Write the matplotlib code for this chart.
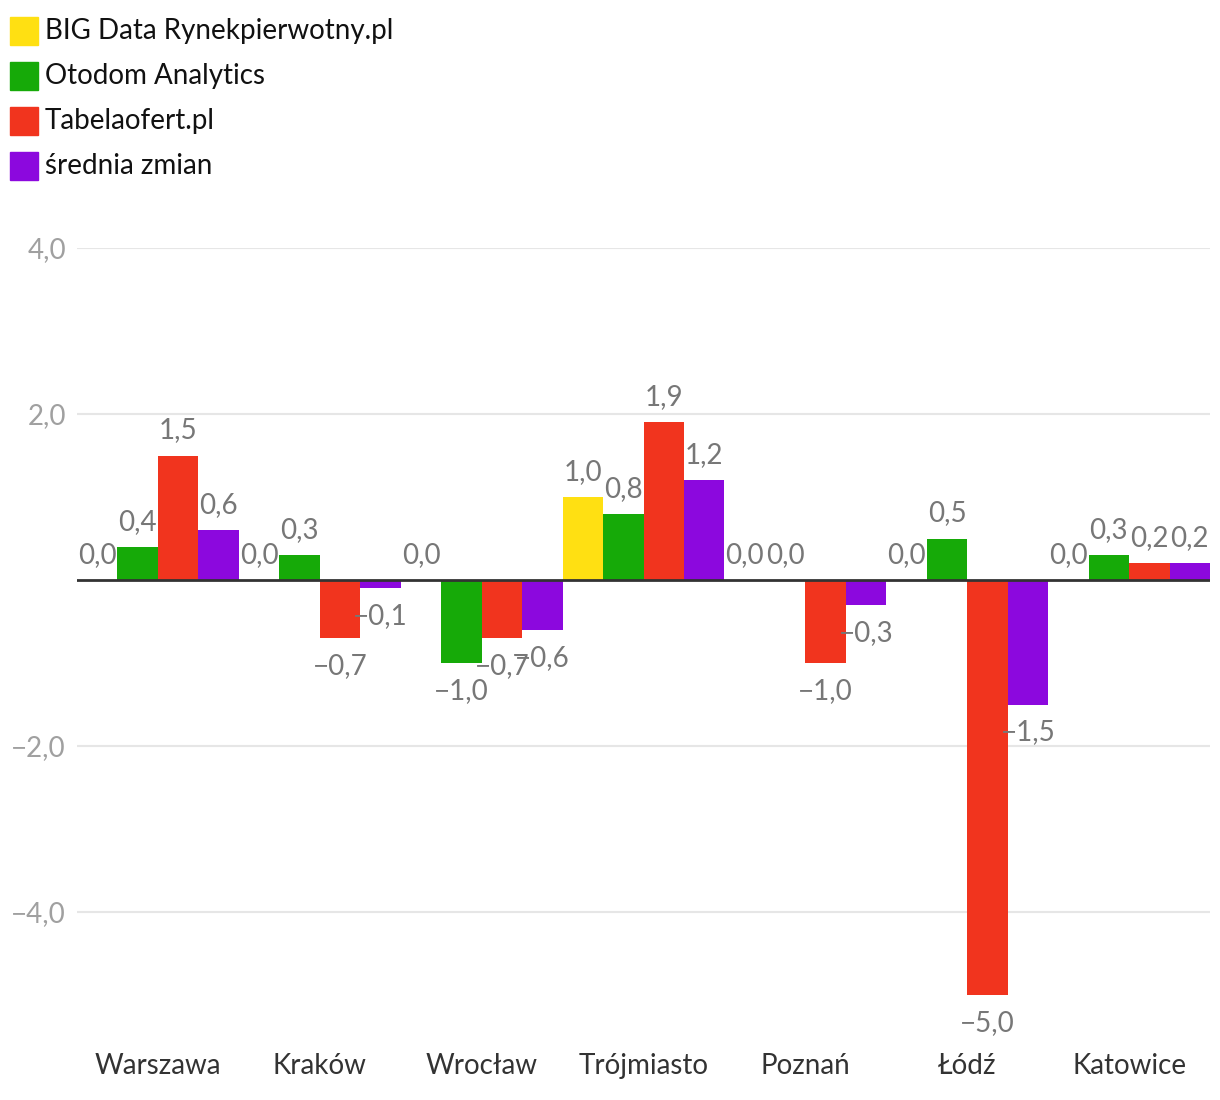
import matplotlib.pyplot as plt
from matplotlib.patches import Rectangle
import numpy as np

plt.rcParams['font.family'] = ['Lato', 'DejaVu Sans']

# cities and the four series (change in %)
cities = ['Warszawa', 'Kraków', 'Wrocław', 'Trójmiasto', 'Poznań', 'Łódź', 'Katowice']
series_names = ['BIG Data Rynekpierwotny.pl', 'Otodom Analytics', 'Tabelaofert.pl', 'średnia zmian']
big_data = [0.0, 0.0, 0.0, 1.0, 0.0, 0.0, 0.0]
otodom = [0.4, 0.3, -1.0, 0.8, 0.0, 0.5, 0.3]
tabelaofert = [1.5, -0.7, -0.7, 1.9, -1.0, -5.0, 0.2]
srednia = [0.6, -0.1, -0.6, 1.2, -0.3, -1.5, 0.2]
colors = ['#FFE012', '#16AA08', '#F1341E', '#8C08DE']
y_ticks = [-4, -2, 2, 4]

all_series = [big_data, otodom, tabelaofert, srednia]
FS = 20


def fmt(v):
    s = '{:.1f}'.format(abs(v)).replace('.', ',')
    return ('\u2212' + s) if v < 0 else s


fig = plt.figure(figsize=(12.2, 11), dpi=100)
ax = fig.add_axes([77 / 1220, 1 - 1036.5 / 1100, (1210 - 77) / 1220, (1036.5 - 248) / 1100])

x = np.arange(len(cities))
w = 0.25
for i, vals in enumerate(all_series):
    pos = x + (i - 1.5) * w
    ax.bar(pos, vals, width=w, color=colors[i], zorder=2)
    for px, v in zip(pos, vals):
        if v >= 0:
            ax.annotate(fmt(v), (px, v), xytext=(0, 18), textcoords='offset points',
                        ha='center', va='center', fontsize=FS, color='#777777', zorder=4)
        else:
            ax.annotate(fmt(v), (px, v), xytext=(0, -20), textcoords='offset points',
                        ha='center', va='center', fontsize=FS, color='#777777', zorder=4)

ax.axhline(0, color='#333333', linewidth=2, zorder=3)
ax.set_xlim(-0.5, len(cities) - 0.5)
ax.set_ylim(-5.5, 4.0)
ax.set_yticks(y_ticks)
ax.set_yticklabels([fmt(t) for t in y_ticks])
ax.set_xticks(x)
ax.set_xticklabels(cities)
ax.tick_params(axis='y', length=0, pad=8, labelsize=FS, labelcolor='#A0A0A0')
ax.tick_params(axis='x', length=0, pad=12, labelsize=FS, labelcolor='#333333')
ax.grid(axis='y', color='#E6E6E6', linewidth=1.5, zorder=0)
for sp in ax.spines.values():
    sp.set_visible(False)

# legend drawn by hand in the top-left corner
for i, name in enumerate(series_names):
    yc = 1 - (31 + 45 * i) / 1100
    fig.patches.append(Rectangle((10 / 1220, yc - 14 / 1100), 28 / 1220, 28 / 1100,
                                 transform=fig.transFigure, color=colors[i]))
    fig.text(45 / 1220, yc, name, fontsize=FS, color='#111111', va='center', ha='left')

fig.savefig('out.png', dpi=100)
